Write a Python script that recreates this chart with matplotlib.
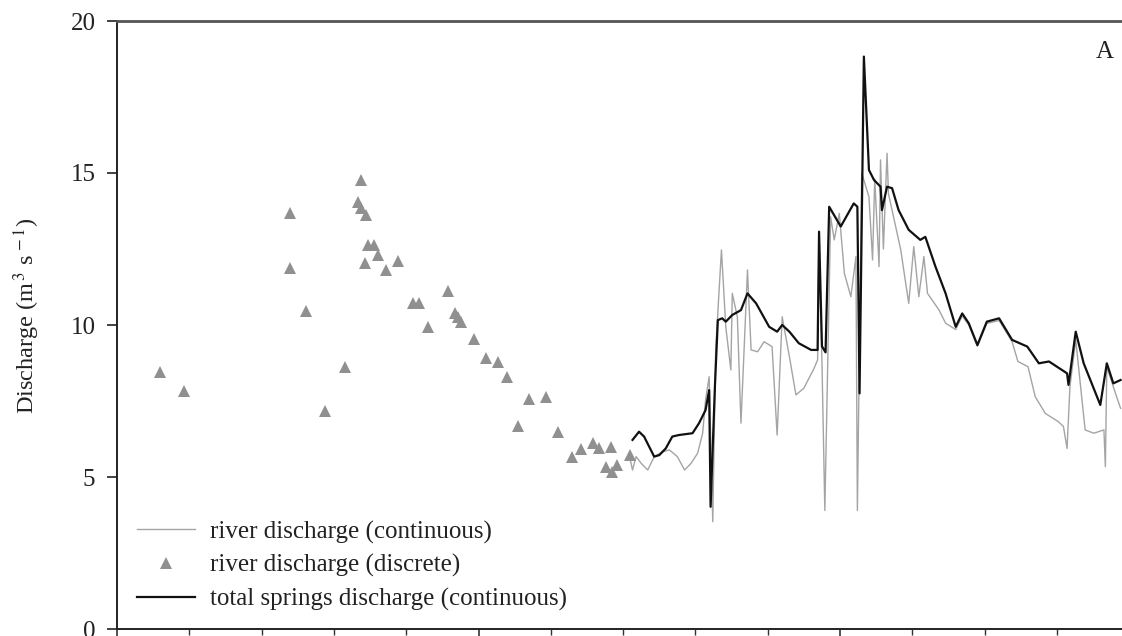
import matplotlib
matplotlib.use("Agg")
import matplotlib.pyplot as plt
from matplotlib.ticker import MultipleLocator

plt.rcParams["font.family"] = ["Liberation Serif", "DejaVu Serif"]
plt.rcParams["mathtext.fontset"] = "stix"

# discrete river gaugings (time in tick units, discharge m3/s)
disc_t = [0.59, 0.93, 2.39, 2.39, 2.62, 2.87, 3.15, 3.38, 3.33, 3.38, 3.45, 3.43,
          3.47, 3.56, 3.61, 3.72, 3.89, 4.09, 4.18, 4.30, 4.58, 4.67, 4.71, 4.76,
          4.94, 5.11, 5.27, 5.39, 5.54, 5.70, 5.94, 6.10, 6.29, 6.42, 6.58, 6.67,
          6.83, 6.76, 6.85, 6.92, 7.09]
disc_q = [8.45, 7.83, 13.67, 11.87, 10.45, 7.17, 8.62, 14.77, 14.06, 13.84, 13.62, 12.03,
          12.63, 12.63, 12.30, 11.81, 12.10, 10.71, 10.71, 9.94, 11.12, 10.38, 10.27, 10.11,
          9.53, 8.90, 8.79, 8.28, 6.69, 7.56, 7.64, 6.49, 5.67, 5.91, 6.11, 5.94,
          6.00, 5.34, 5.18, 5.39, 5.72]

# continuous river discharge
river_t = [7.09, 7.13, 7.18, 7.25, 7.34, 7.43, 7.55, 7.64, 7.75, 7.85, 7.94, 8.03,
           8.10, 8.14, 8.19, 8.24, 8.28, 8.36, 8.42, 8.49, 8.51, 8.58, 8.63, 8.72,
           8.77, 8.86, 8.95, 9.06, 9.13, 9.20, 9.30, 9.39, 9.50, 9.64, 9.69, 9.71,
           9.75, 9.79, 9.87, 9.92, 9.99, 10.06, 10.15, 10.22, 10.24, 10.30, 10.40, 10.45,
           10.48, 10.54, 10.56, 10.60, 10.65, 10.67, 10.84, 10.95, 11.02, 11.09, 11.16, 11.21,
           11.37, 11.46, 11.60, 11.69, 11.78, 11.90, 12.03, 12.20, 12.38, 12.46, 12.60, 12.70,
           12.84, 13.02, 13.09, 13.14, 13.18, 13.26, 13.39, 13.51, 13.65, 13.67, 13.69, 13.81,
           13.88]
river_q = [5.67, 5.23, 5.67, 5.45, 5.23, 5.67, 5.83, 5.89, 5.67, 5.23, 5.45, 5.78,
           6.44, 7.53, 8.30, 3.53, 9.18, 12.47, 9.94, 8.52, 11.04, 10.27, 6.77, 11.81,
           9.18, 9.12, 9.45, 9.29, 6.38, 10.27, 8.96, 7.70, 7.92, 8.57, 8.85, 13.00,
           8.80, 3.90, 13.56, 12.80, 13.67, 11.70, 10.93, 12.25, 3.90, 15.00, 14.22, 12.14,
           14.80, 11.92, 15.43, 12.50, 15.65, 14.32, 12.47, 10.71, 12.58, 10.93, 12.25, 11.04,
           10.49, 10.06, 9.85, 10.30, 10.00, 9.30, 10.05, 10.15, 9.45, 8.80, 8.63, 7.64,
           7.09, 6.82, 6.66, 5.94, 7.97, 9.51, 6.55, 6.44, 6.55, 5.34, 8.63, 7.75,
           7.26]

# total springs discharge
springs_t = [7.13, 7.22, 7.29, 7.36, 7.43, 7.50, 7.59, 7.68, 7.77, 7.96, 8.05, 8.14,
             8.19, 8.21, 8.27, 8.31, 8.37, 8.42, 8.51, 8.63, 8.72, 8.84, 9.02, 9.13,
             9.20, 9.30, 9.43, 9.60, 9.69, 9.71, 9.75, 9.80, 9.85, 10.01, 10.10, 10.19,
             10.24, 10.27, 10.33, 10.40, 10.47, 10.56, 10.58, 10.65, 10.72, 10.81, 10.95, 11.11,
             11.18, 11.32, 11.46, 11.60, 11.69, 11.78, 11.90, 12.03, 12.20, 12.38, 12.59, 12.75,
             12.89, 13.14, 13.16, 13.26, 13.37, 13.60, 13.69, 13.78, 13.88]
springs_q = [6.22, 6.49, 6.33, 6.00, 5.67, 5.72, 5.94, 6.33, 6.38, 6.44, 6.77, 7.20,
             7.86, 4.02, 8.00, 10.16, 10.22, 10.11, 10.33, 10.49, 11.04, 10.71, 9.94, 9.78,
             10.00, 9.78, 9.40, 9.18, 9.18, 13.07, 9.30, 9.10, 13.89, 13.24, 13.62, 14.00,
             13.89, 7.75, 18.83, 15.10, 14.77, 14.55, 13.78, 14.55, 14.50, 13.78, 13.13, 12.80,
             12.90, 11.92, 11.04, 9.94, 10.38, 10.06, 9.34, 10.11, 10.22, 9.51, 9.29, 8.74,
             8.80, 8.41, 8.03, 9.78, 8.74, 7.37, 8.74, 8.08, 8.19]

fig = plt.figure(figsize=(11.22, 6.36), dpi=100)
ax = fig.add_axes([117 / 1122, 7 / 636, 1005 / 1122, 608 / 636])

ax.plot(river_t, river_q, color="#a4a4a4", linewidth=1.0, label="river discharge (continuous)")
ax.plot(disc_t, disc_q, linestyle="none", marker="^", markersize=9, color="#909090",
        markeredgewidth=0, label="river discharge (discrete)")
ax.plot(springs_t, springs_q, color="#111111", linewidth=1.6, label="total springs discharge (continuous)")

ax.set_xlim(0, 13.9)
ax.set_ylim(0, 20)
ax.set_yticks([0, 5, 10, 15, 20])
ax.xaxis.set_major_locator(MultipleLocator(5))
ax.xaxis.set_minor_locator(MultipleLocator(1))
ax.set_xticklabels([])
ax.tick_params(axis="y", direction="out", length=7, width=1.2, labelsize=18, pad=8.5, colors="#222222")
ax.tick_params(axis="x", which="major", direction="out", length=9, width=1.2, colors="#333333")
ax.tick_params(axis="x", which="minor", direction="out", length=4, width=1.0, colors="#333333")

ax.spines["right"].set_visible(False)
for side in ["left", "bottom"]:
    ax.spines[side].set_linewidth(1.4)
    ax.spines[side].set_color("#222222")
ax.spines["top"].set_linewidth(2.0)
ax.spines["top"].set_color("#555555")

ax.set_ylabel("Discharge (m$^{\\,3}$ s$^{\\,-1}$)", fontsize=17.5, color="#222222")
ax.yaxis.set_label_coords(-0.0746, 0.515)

ax.text(0.983, 0.949, "A", transform=ax.transAxes, fontsize=18, ha="center", va="center", color="#222222")

leg = ax.legend(loc="lower left", bbox_to_anchor=(0.02, 0.03), frameon=False, fontsize=18,
                handlelength=2.3, handletextpad=0.6, labelspacing=0.42, borderaxespad=0, borderpad=0)
for t in leg.get_texts():
    t.set_color("#222222")

fig.savefig("out.png", dpi=100)
